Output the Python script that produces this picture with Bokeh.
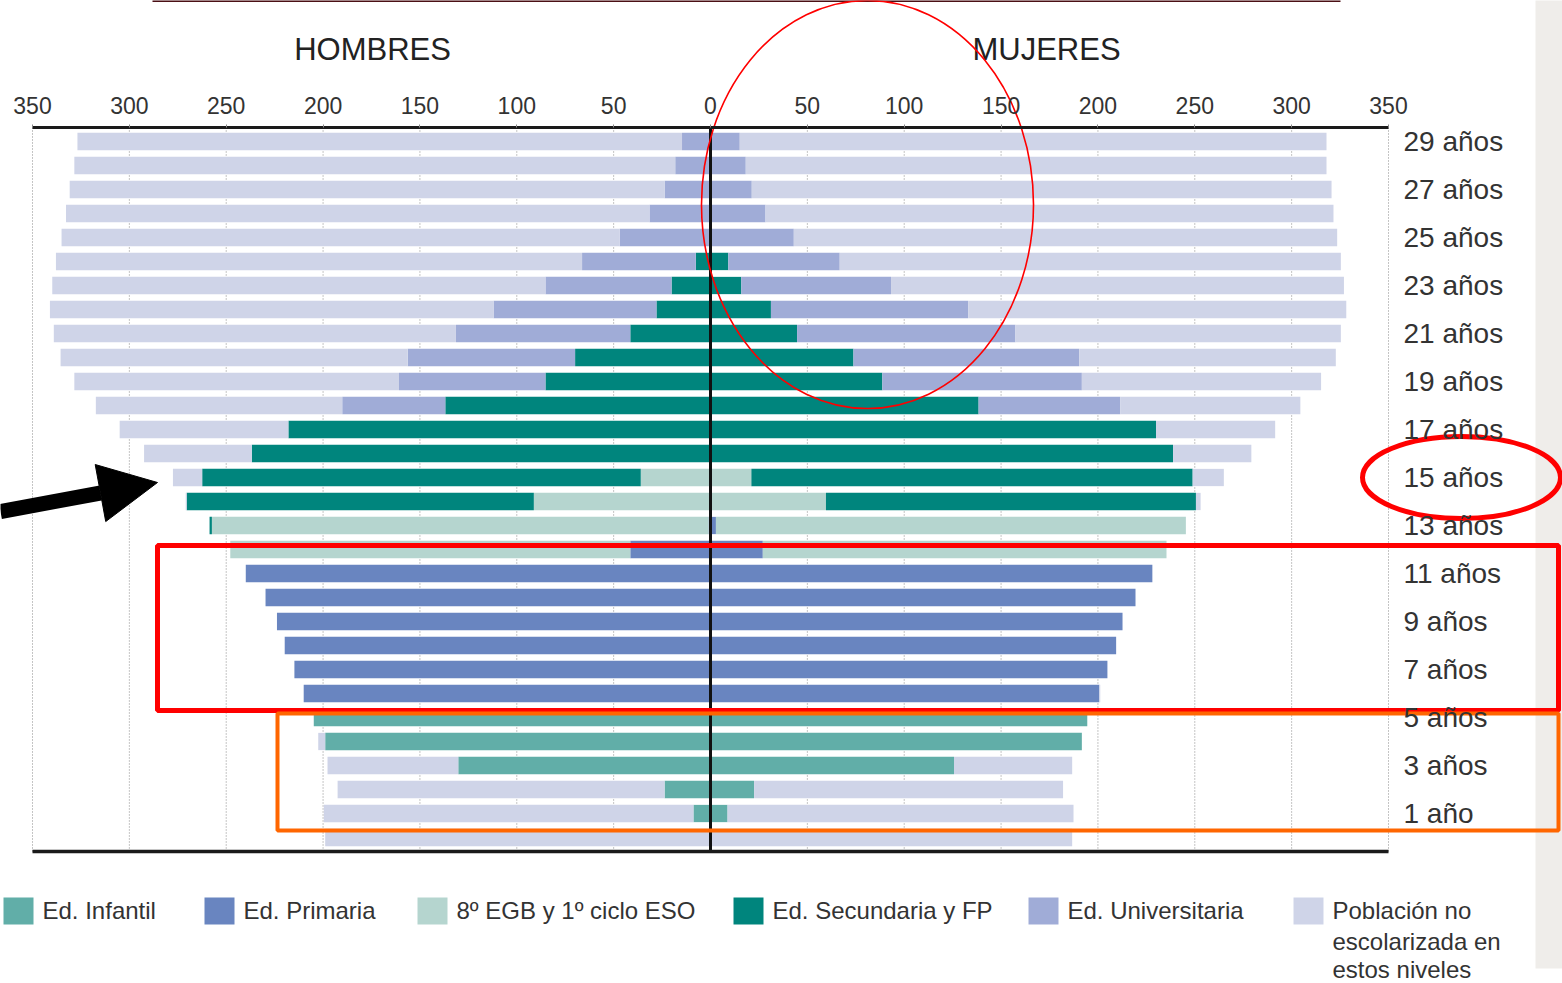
import numpy as np
from bokeh.plotting import figure
from bokeh.models import Range1d, LinearAxis, FixedTicker, Arrow, NormalHead
from bokeh.core.properties import value
from bokeh.embed import file_html
from bokeh.resources import INLINE

# ---------------- data ----------------
ages = list(range(30))  # 0 .. 29 años

categories = ["Ed. Infantil", "Ed. Primaria", "8º EGB y 1º ciclo ESO",
              "Ed. Secundaria y FP", "Ed. Universitaria",
              "Población no escolarizada en estos niveles"]
colors = ["#61aea8", "#6985c0", "#b5d5cf", "#00857d", "#a0acd7", "#cfd4e8"]

# HOMBRES (miles), index = edad
h_infantil = [0, 8.8, 23.7, 130.2, 198.9, 204.8] + [0] * 24
h_primaria = [0] * 6 + [210.0, 214.8, 219.8, 223.8, 229.7, 239.9, 41.4, 1.0] + [0] * 16
h_egb = [0] * 12 + [206.5, 256.4, 91.2, 36.0] + [0] * 14
h_secundaria = [0] * 13 + [1.2, 179.2, 226.4, 236.8, 217.9, 136.9, 85.2, 69.9,
                           41.4, 27.9, 20.1, 7.6] + [0] * 5
h_universitaria = [0] * 18 + [53.2, 75.6, 86.4, 90.0, 84.1, 65.1, 58.7, 46.9,
                              31.5, 23.7, 18.2, 14.7]
h_noesc = [198.9, 190.8, 168.8, 67.5, 3.6, 0, 0, 0, 0, 0, 0, 0, 0, 0, 0.5, 15.1,
           55.6, 87.1, 127.2, 167.6, 179.2, 207.6, 229.0, 254.6, 271.6, 288.1,
           301.2, 307.1, 310.2, 312.1]

# MUJERES (miles)
m_infantil = [0, 8.8, 22.5, 125.7, 191.7, 194.5] + [0] * 24
m_primaria = [0] * 6 + [200.7, 204.9, 209.4, 212.7, 219.4, 228.1, 27.0, 2.8] + [0] * 16
m_egb = [0] * 12 + [208.4, 242.6, 59.6, 21.1] + [0] * 14
m_secundaria = [0] * 14 + [191.0, 227.8, 238.8, 230.0, 138.4, 88.7, 73.8,
                           44.7, 31.2, 15.9, 9.2] + [0] * 5
m_universitaria = [0] * 18 + [73.1, 103.0, 116.5, 112.7, 101.8, 77.3, 57.5, 43.0,
                              28.4, 21.3, 18.2, 15.1]
m_noesc = [186.7, 178.6, 159.5, 61.0, 0, 0, 0.5, 0, 0, 0, 0, 0, 0, 0, 2.4, 16.1,
           40.4, 61.5, 93.0, 123.5, 132.5, 168.0, 195.2, 233.8, 258.7, 280.5,
           293.2, 299.3, 299.8, 302.9]

x_ticks = list(range(-350, 351, 50))
x_tick_labels = [str(abs(t)) for t in x_ticks]
age_ticks = list(range(29, 0, -2))
age_tick_labels = ["29 años", "27 años", "25 años", "23 años", "21 años", "19 años",
                   "17 años", "15 años", "13 años", "11 años", "9 años", "7 años",
                   "5 años", "3 años", "1 año"]
side_titles = ["HOMBRES", "MUJERES"]
legend_labels = ["Ed. Infantil", "Ed. Primaria", "8º EGB y 1º ciclo ESO",
                 "Ed. Secundaria y FP", "Ed. Universitaria"]
legend_last_lines = ["Población no", "escolarizada en", "estos niveles"]

# ---------------- layout helpers (page pixels -> data) ----------------
S = 1356 / 700.0          # px per unit on x
RY = 24.0                 # px per age row


def X(px):
    return -350 + (px - 32) / S


def Y(py):
    return 29 - (py - 141) / RY


FONT = value("Liberation Sans")
TXT = "#333333"
y_lo, y_hi = -0.583, 29.583

p = figure(width=1562, height=983, x_range=Range1d(X(0), X(1562)),
           y_range=Range1d(Y(983), Y(0)), x_axis_location=None,
           y_axis_location=None, toolbar_location=None, output_backend="svg",
           min_border=0, outline_line_color=None)
p.min_border_left = p.min_border_right = p.min_border_top = p.min_border_bottom = 0
p.grid.visible = False
p.background_fill_color = "white"
p.border_fill_color = "white"

# light grey strip at right edge of the slide
p.quad(left=[X(1535)], right=[X(1565)], top=[Y(-2)], bottom=[Y(968)],
       fill_color="#efedea", line_color=None)
# thin dark line at the very top of the slide
p.segment(x0=[X(152)], y0=[Y(0.5)], x1=[X(1340)], y1=[Y(0.5)],
          line_color="#4a0f14", line_width=2)

# dotted vertical grid
n = len(x_ticks)
p.segment(x0=x_ticks, y0=[y_lo] * n, x1=x_ticks, y1=[y_hi] * n,
          line_color="#8a8a8a", line_width=1, line_dash="1 2")

# stacked bars
bar_h = 0.72
cum = np.zeros(30)
for vals, col in zip([h_infantil, h_primaria, h_egb, h_secundaria, h_universitaria, h_noesc], colors):
    v = np.array(vals, dtype=float)
    p.hbar(y=ages, left=-(cum + v), right=-cum.copy(), height=bar_h,
           fill_color=col, line_color=None)
    cum = cum + v
cum = np.zeros(30)
for vals, col in zip([m_infantil, m_primaria, m_egb, m_secundaria, m_universitaria, m_noesc], colors):
    v = np.array(vals, dtype=float)
    p.hbar(y=ages, left=cum.copy(), right=cum + v, height=bar_h,
           fill_color=col, line_color=None)
    cum = cum + v

# centre line
p.segment(x0=[0], y0=[y_lo], x1=[0], y1=[y_hi], line_color="#111111", line_width=3)

# axes
ax_top = LinearAxis(fixed_location=y_hi, bounds=(-350, 350),
                    ticker=FixedTicker(ticks=x_ticks),
                    major_label_overrides=dict(zip(x_ticks, x_tick_labels)),
                    axis_line_width=3, axis_line_color="#1a1a1a",
                    major_tick_in=0, major_tick_out=3, major_tick_line_color="#888888",
                    minor_tick_line_color=None, major_label_standoff=11,
                    major_label_text_font_size="23px", major_label_text_color=TXT,
                    major_label_text_font="Liberation Sans")
p.add_layout(ax_top, "above")

ax_bot = LinearAxis(fixed_location=y_lo, bounds=(-350, 350),
                    ticker=FixedTicker(ticks=[]), axis_line_width=3.5,
                    axis_line_color="#1a1a1a", major_tick_line_color=None,
                    minor_tick_line_color=None, major_label_text_font_size="0px")
p.add_layout(ax_bot, "below")

ax_right = LinearAxis(fixed_location=350, ticker=FixedTicker(ticks=age_ticks),
                      major_label_overrides=dict(zip(age_ticks, age_tick_labels)),
                      axis_line_color=None, major_tick_line_color=None,
                      minor_tick_line_color=None, major_label_standoff=9,
                      major_label_text_font_size="28px", major_label_text_color=TXT,
                      major_label_text_font="Liberation Sans")
p.add_layout(ax_right, "right")

# side titles
p.text(x=[X(372), X(1046)], y=[Y(49), Y(49)], text=side_titles, text_font=FONT,
       text_font_size="31px", text_color="#222222", text_align="center",
       text_baseline="middle")

# legend (manual, in a row under the chart)
sw_px = [3, 204, 417, 733, 1028, 1293]
p.quad(left=[X(s) for s in sw_px], right=[X(s + 30) for s in sw_px],
       top=[Y(897)] * 6, bottom=[Y(924)] * 6, fill_color=colors, line_color=None)
p.text(x=[X(s + 39) for s in sw_px[:5]], y=[Y(910)] * 5, text=legend_labels,
       text_font=FONT, text_font_size="24px", text_color=TXT,
       text_align="left", text_baseline="middle")
p.text(x=[X(sw_px[5] + 39)] * 3, y=[Y(910), Y(941), Y(969)], text=legend_last_lines,
       text_font=FONT, text_font_size="24px", text_color=TXT,
       text_align="left", text_baseline="middle")

# hand-drawn annotations of the slide
p.ellipse(x=[X(867)], y=[Y(204)], width=[332 / S], height=[408 / RY],
          fill_color=None, line_color="#ff0000", line_width=1.6)
p.ellipse(x=[X(1461)], y=[Y(477)], width=[198 / S], height=[82 / RY],
          fill_color=None, line_color="#ff0000", line_width=5)
p.quad(left=[X(157)], right=[X(1558)], top=[Y(545)], bottom=[Y(710)],
       fill_color=None, line_color="#ff0000", line_width=5)
p.quad(left=[X(277)], right=[X(1558)], top=[Y(713)], bottom=[Y(830)],
       fill_color=None, line_color="#ff6600", line_width=4)
p.add_layout(Arrow(x_start=X(0), y_start=Y(511), x_end=X(157), y_end=Y(482),
                   line_width=15, line_color="black",
                   end=NormalHead(size=58, fill_color="black", line_color="black")))

open("out.html", "w").write(file_html(p, INLINE))
